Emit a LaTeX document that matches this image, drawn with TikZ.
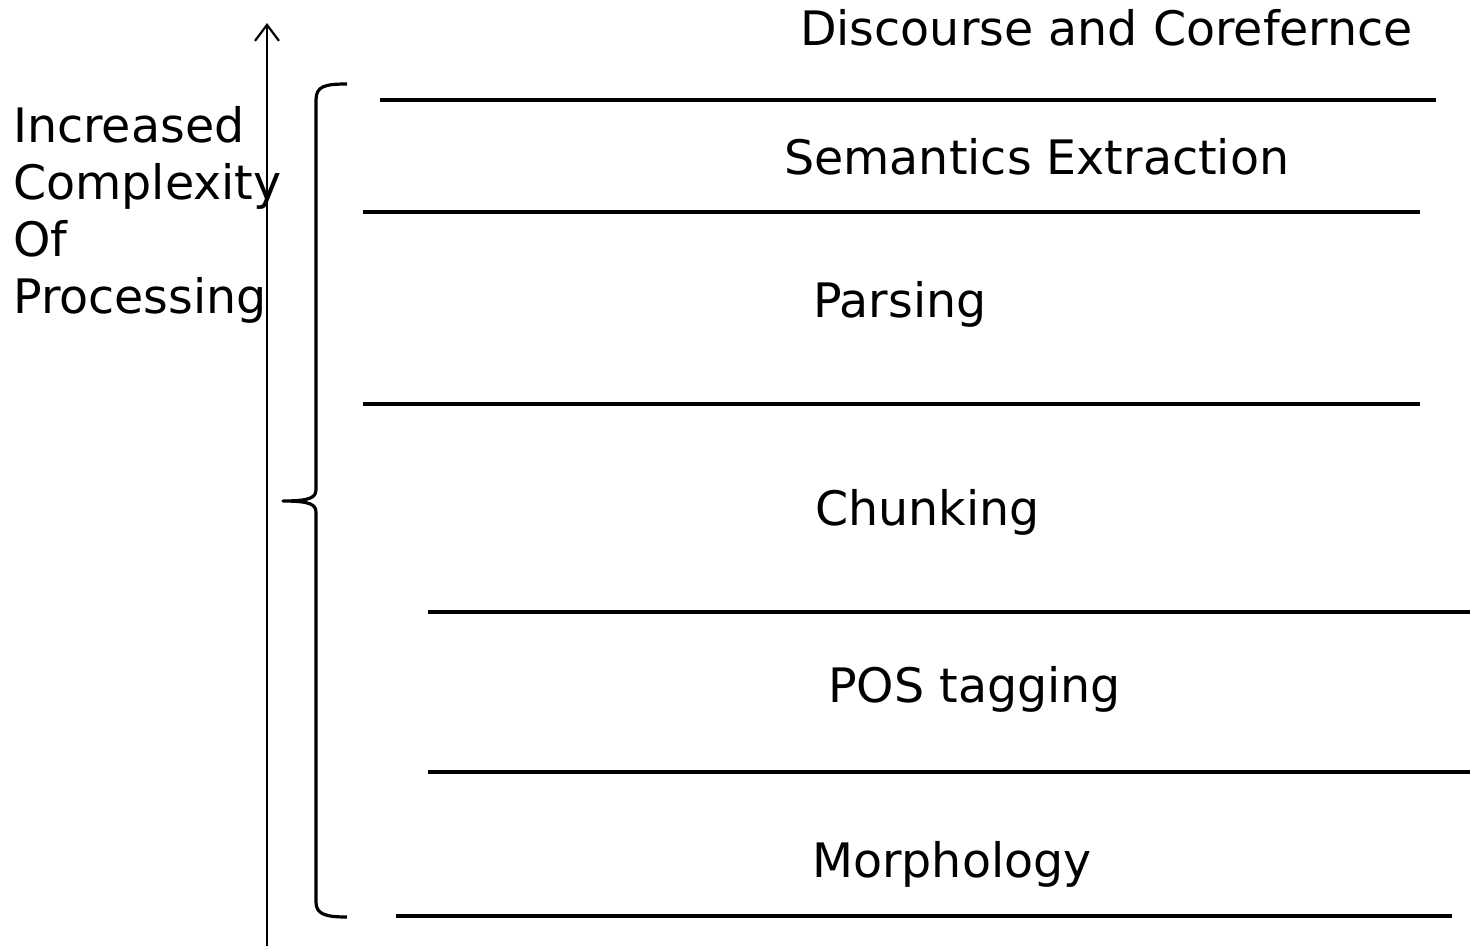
\documentclass[tikz,border=0pt]{standalone}
\usepackage{fontspec}
\setmainfont{DejaVu Sans}
\usetikzlibrary{arrows.meta}
\begin{document}
\begin{tikzpicture}[x=1pt,y=-1pt,
  label/.style={anchor=base west,inner sep=0pt,font=\fontsize{47.5}{57}\selectfont},
  layer/.style={line width=3.2pt},
  axis/.style={line width=2.2pt,-{Straight Barb[length=16pt,width=24pt]}},
  brace/.style={line width=3.2pt,line join=round}]
\useasboundingbox (0,0) rectangle (1470,946);

% rising axis
\coordinate (axbot) at (267,946);
\coordinate (axtop) at (267,23);
\draw[axis] (axbot) -- (axtop);

% axis caption, one node per line
\node[label] (ax1) at (13,142) {Increased};
\node[label] (ax2) at (13,199) {Complexity};
\node[label] (ax3) at (13,256) {Of};
\node[label] (ax4) at (13,313) {Processing};

% curly brace grouping all levels
\draw[brace] (347,84) .. controls (325,84) and (316,86) .. (316,100)
  -- (316,489) .. controls (316,497) and (312,501) .. (283,501)
  .. controls (312,501) and (316,505) .. (316,513)
  -- (316,902) .. controls (316,914) and (325,917) .. (347,917);

% level separators
\draw[layer] (380,100) -- (1436,100);
\draw[layer] (363,212) -- (1420,212);
\draw[layer] (363,404) -- (1420,404);
\draw[layer] (428,612) -- (1470,612);
\draw[layer] (428,772) -- (1470,772);
\draw[layer] (396,916) -- (1452,916);

% level names
\node[label] (disc)  at (800,45)  {Discourse and Corefernce};
\node[label] (sem)   at (784,174) {Semantics Extraction};
\node[label] (parse) at (813,317) {Parsing};
\node[label] (chunk) at (815,525) {Chunking};
\node[label] (pos)   at (828,702) {POS tagging};
\node[label] (morph) at (812,877) {Morphology};
\end{tikzpicture}
\end{document}
